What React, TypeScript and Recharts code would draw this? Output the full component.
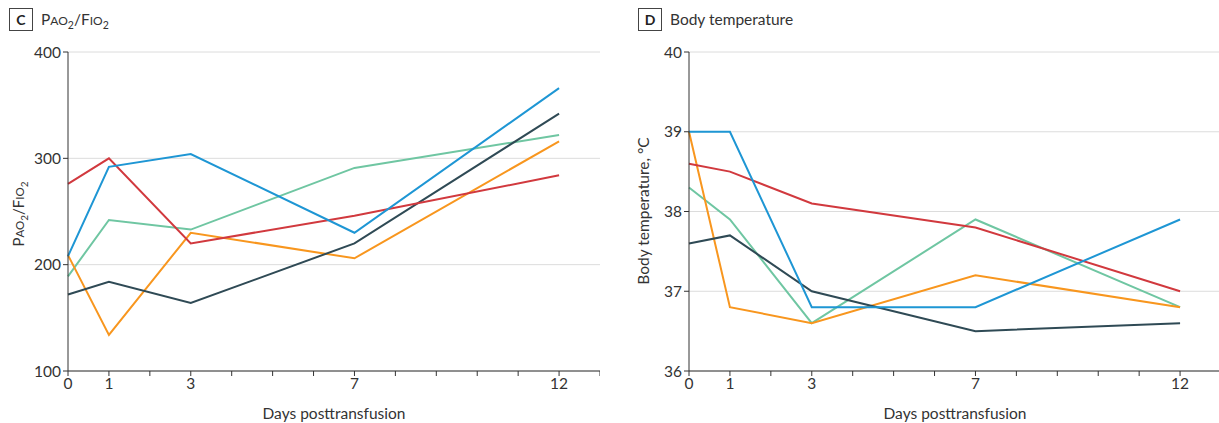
import React from 'react';
import { LineChart, Line, XAxis, YAxis, CartesianGrid } from 'recharts';

const DAYS = [0, 1, 3, 7, 12];
const X_TICKS = [0, 1, 2, 3, 4, 5, 6, 7, 8, 9, 10, 11, 12, 13];
const X_LABELS = [0, 1, 3, 7, 12];

// PaO2/FiO2 per patient
const PF_BLUE = [208, 292, 304, 230, 366];
const PF_RED = [276, 300, 220, 246, 284];
const PF_GREEN = [189, 242, 233, 291, 322];
const PF_ORANGE = [209, 134, 230, 206, 316];
const PF_DARK = [172, 184, 164, 220, 342];
const PF_TICKS = [100, 200, 300, 400];

// Body temperature per patient
const BT_BLUE = [39.0, 39.0, 36.8, 36.8, 37.9];
const BT_RED = [38.6, 38.5, 38.1, 37.8, 37.0];
const BT_GREEN = [38.3, 37.9, 36.6, 37.9, 36.8];
const BT_ORANGE = [39.0, 36.8, 36.6, 37.2, 36.8];
const BT_DARK = [37.6, 37.7, 37.0, 36.5, 36.6];
const BT_TICKS = [36, 37, 38, 39, 40];

const COLORS = {
  blue: '#1e96d4',
  red: '#d1393e',
  green: '#6fc6a2',
  orange: '#f8961e',
  dark: '#2f4a55',
};

const FONT = 'Lato, "Open Sans", sans-serif';
const AXIS = '#333';

const buildRows = (blue: number[], red: number[], green: number[], orange: number[], dark: number[]) =>
  DAYS.map((day, i) => ({
    day,
    blue: blue[i],
    red: red[i],
    green: green[i],
    orange: orange[i],
    dark: dark[i],
  }));

const pfData = buildRows(PF_BLUE, PF_RED, PF_GREEN, PF_ORANGE, PF_DARK);
const btData = buildRows(BT_BLUE, BT_RED, BT_GREEN, BT_ORANGE, BT_DARK);

const SERIES = ['green', 'orange', 'dark', 'red', 'blue'] as const;

interface PanelProps {
  data: typeof pfData;
  domain: [number, number];
  ticks: number[];
  yAxisWidth: number;
  width: number;
}

function Panel({ data, domain, ticks, yAxisWidth, width }: PanelProps) {
  const tickStyle = { fontFamily: FONT, fontSize: 15.5, fill: '#333' };
  return (
    <LineChart width={width} height={423} data={data} margin={{ top: 52, right: 0, left: 0, bottom: 0 }}>
      <CartesianGrid horizontal vertical={false} stroke="#dcdcdc" />
      <XAxis
        dataKey="day"
        type="number"
        domain={[0, 13]}
        ticks={X_TICKS}
        interval={0}
        tickFormatter={(v: number) => (X_LABELS.includes(v) ? String(v) : '')}
        tick={tickStyle}
        tickSize={5}
        tickMargin={2}
        stroke={AXIS}
        height={52}
        label={{
          value: 'Days posttransfusion',
          position: 'insideBottom',
          offset: 4,
          style: { fontFamily: FONT, fontSize: 15.5, fill: '#333', textAnchor: 'middle' },
        }}
      />
      <YAxis
        type="number"
        domain={domain}
        ticks={ticks}
        interval={0}
        tick={tickStyle}
        tickSize={5}
        tickMargin={2}
        stroke={AXIS}
        width={yAxisWidth}
      />
      {SERIES.map((key) => (
        <Line
          key={key}
          type="linear"
          dataKey={key}
          stroke={COLORS[key]}
          strokeWidth={2}
          dot={false}
          activeDot={false}
          isAnimationActive={false}
        />
      ))}
    </LineChart>
  );
}

function TitleBox({ x, letter }: { x: number; letter: string }) {
  return (
    <g>
      <rect x={x} y={8.5} width={23} height={22} fill="#fff" stroke="#444" strokeWidth={1} />
      <text x={x + 11.5} y={25} textAnchor="middle" fontFamily={FONT} fontWeight={700} fontSize={14} fill="#222">
        {letter}
      </text>
    </g>
  );
}

export default function App() {
  return (
    <div style={{ position: 'absolute', left: 0, top: 0, width: 1219, height: 423, background: '#fff', overflow: 'hidden' }}>
      <div style={{ position: 'absolute', left: 0, top: 0 }}>
        <Panel data={pfData} domain={[100, 400]} ticks={PF_TICKS} yAxisWidth={68} width={600} />
      </div>
      <div style={{ position: 'absolute', left: 609, top: 0 }}>
        <Panel data={btData} domain={[36, 40]} ticks={BT_TICKS} yAxisWidth={80} width={612} />
      </div>
      <svg width={1219} height={423} style={{ position: 'absolute', left: 0, top: 0, pointerEvents: 'none' }}>
        <TitleBox x={9.5} letter="C" />
        <text x={41} y={25} fontFamily={FONT} fontSize={15.5} fill="#333">
          P<tspan fontSize={12}>AO</tspan>
          <tspan fontSize={10.5} dy={4}>2</tspan>
          <tspan dy={-4}>/F</tspan>
          <tspan fontSize={12}>IO</tspan>
          <tspan fontSize={10.5} dy={4}>2</tspan>
        </text>
        <TitleBox x={638.5} letter="D" />
        <text x={670} y={25} fontFamily={FONT} fontSize={15.5} fill="#333">
          Body temperature
        </text>
        <text transform="translate(24,214) rotate(-90)" textAnchor="middle" fontFamily={FONT} fontSize={15} fill="#333">
          P<tspan fontSize={11.5}>AO</tspan>
          <tspan fontSize={10} dy={4}>2</tspan>
          <tspan dy={-4}>/F</tspan>
          <tspan fontSize={11.5}>IO</tspan>
          <tspan fontSize={10} dy={4}>2</tspan>
        </text>
        <text transform="translate(649,211) rotate(-90)" textAnchor="middle" fontFamily={FONT} fontSize={15.5} fill="#333">
          Body temperature, °C
        </text>
      </svg>
    </div>
  );
}
